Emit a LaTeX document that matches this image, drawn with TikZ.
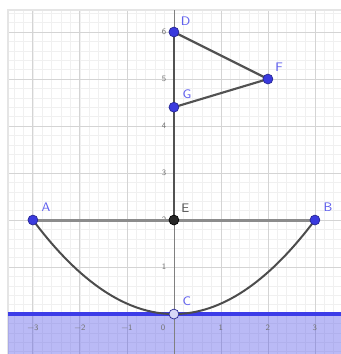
\documentclass[tikz,border=0pt]{standalone}
\usepackage{tikz}
\usetikzlibrary{calc}
\definecolor{ggblue}{RGB}{60,60,232}
\definecolor{ggpt}{RGB}{58,58,222}
\definecolor{gglabel}{RGB}{96,96,238}

\begin{document}
\begin{tikzpicture}[
    font=\sffamily,
    pt/.style={circle, fill=ggpt, draw=ggpt!65!black, line width=0.4pt, inner sep=0pt, minimum size=6pt},
    lbl/.style={text=gglabel, font=\sffamily\fontsize{7.5}{9}\selectfont, inner sep=1pt},
    seg/.style={line width=1.5pt, draw=black!68},
    ticklbl/.style={font=\sffamily\fontsize{5}{6}\selectfont, text=black!55, inner sep=0.5pt}
]
\useasboundingbox (-3.70,-0.85) rectangle (3.553,6.681);
\fill[white] (-3.70,-0.85) rectangle (3.553,6.681);

% grid
\draw[black!6, line width=0.3pt] (-3.53,-0.85) grid[step=0.2] (3.553,6.47);
\draw[black!17, line width=0.5pt] (-3.53,-0.85) grid[step=1] (3.553,6.47);
\draw[black!10, line width=0.8pt] (-3.53,-0.85) -- (-3.53,6.47) -- (3.553,6.47);

% half plane y <= 0
\fill[ggblue, opacity=0.35] (-3.53,-0.85) rectangle (3.553,0);
\draw[black!50, line width=0.5pt] (0,-0.85) -- (0,6.47);
\draw[ggblue, line width=2pt] (-3.53,0) -- (3.553,0);

% tick labels
\foreach \x/\t in {-3/−3,-2/−2,-1/−1,1/1,2/2,3/3}
    \node[ticklbl] at (\x,-0.3) {\t};
\node[ticklbl] at (-0.23,-0.3) {0};
\foreach \y in {1,...,6}
    \node[ticklbl, anchor=east] at (-0.14,\y) {\y};

% points
\coordinate (A) at (-3,2);
\coordinate (B) at (3,2);
\coordinate (C) at (0,0);
\coordinate (D) at (0,6);
\coordinate (E) at (0,2);
\coordinate (F) at (2,5);
\coordinate (G) at (0,4.4);

\draw[seg, draw=black!45, line width=1.8pt] (A) -- (B);
\draw[seg] (D) -- (E);
\draw[seg, line width=1.3pt] (D) -- (F) -- (G);
\draw[line width=1.2pt, black!70] (A) .. controls (-1,-0.6667) and (1,-0.6667) .. (B);

\node[pt, label={[lbl, label distance=2.5pt]above right:A}] (ptA) at (A) {};
\node[pt, label={[lbl, label distance=2.5pt]above right:B}] (ptB) at (B) {};
\node[pt, fill=ggpt!20, label={[lbl, label distance=2.5pt]above right:C}] (ptC) at (C) {};
\node[pt, label={[lbl, label distance=1pt]above right:D}] (ptD) at (D) {};
\node[pt, fill=black!85, draw=black, label={[lbl, text=black!65, label distance=1.5pt]above right:E}] (ptE) at (E) {};
\node[pt, label={[lbl, label distance=1.5pt]above right:F}] (ptF) at (F) {};
\node[pt, label={[lbl, label distance=2.5pt]above right:G}] (ptG) at (G) {};

\end{tikzpicture}
\end{document}
